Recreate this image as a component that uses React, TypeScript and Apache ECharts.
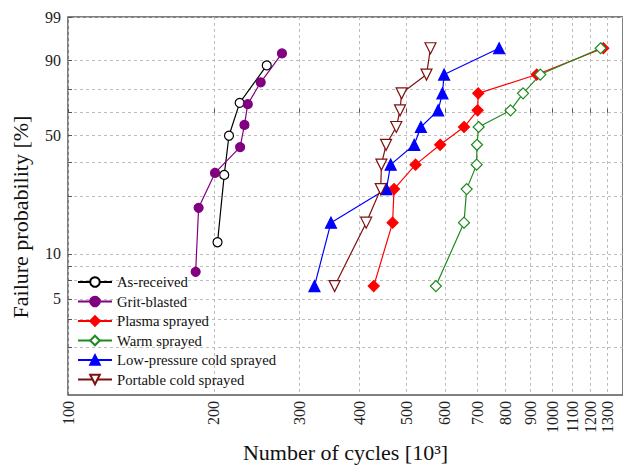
import React, { useEffect, useRef } from 'react';
import * as echarts from 'echarts';

// ---- data (cycles in 10^3, failure probability in %) ----
const seriesNames = [
  'As-received',
  'Grit-blasted',
  'Plasma sprayed',
  'Warm sprayed',
  'Low-pressure cold sprayed',
  'Portable cold sprayed',
];

const asReceivedCycles = [203.6, 210.2, 215.0, 226.2, 257.3];
const asReceivedProb = [11.9, 31.0, 50.0, 69.0, 88.1];

const gritBlastedCycles = [183.5, 186.1, 201.2, 226.7, 231.4, 235.1, 250.0, 276.6];
const gritBlastedProb = [7.6, 19.7, 31.8, 43.9, 56.1, 68.2, 80.3, 92.4];

const plasmaCycles = [427.9, 468.1, 471.3, 522.1, 586.8, 657.3, 701.3, 703.4, 929.1, 1274.7];
const plasmaProb = [6.1, 15.9, 25.6, 35.4, 45.1, 54.9, 64.6, 74.4, 84.1, 93.9];

const warmCycles = [575.0, 657.3, 665.7, 698.1, 699.1, 704.7, 819.9, 870.4, 944.8, 1258.6];
const warmProb = [6.1, 15.9, 25.6, 35.4, 45.1, 54.9, 64.6, 74.4, 84.1, 93.9];

const lowPressureCycles = [322.8, 349.2, 454.5, 463.8, 518.8, 535.5, 581.2, 593.2, 598.0, 776.9];
const lowPressureProb = [6.1, 15.9, 25.6, 35.4, 45.1, 54.9, 64.6, 74.4, 84.1, 93.9];

const portableCycles = [355.3, 412.9, 442.4, 443.8, 453.8, 476.4, 484.9, 488.6, 550.0, 560.5];
const portableProb = [6.1, 15.9, 25.6, 35.4, 45.1, 54.9, 64.6, 74.4, 84.1, 93.9];

const xTickValues = [100, 200, 300, 400, 500, 600, 700, 800, 900, 1000, 1100, 1200, 1300];
const yLabelValues = [5, 10, 50, 90, 99];
const yGridValues = [2.333, 3.667, 5, 6.667, 8.333, 10, 23.333, 36.667, 50, 63.333, 76.667, 90, 99];

const xMinCycles = 100;
const xMaxCycles = 1400;
const yMinPct = 1.1;
const yMaxPct = 99;

// ---- scale transforms (log x, Weibull y) ----
const lx = (c: number) => Math.log10(c);
const wb = (p: number) => Math.log(-Math.log(1 - p / 100));
const invWb = (w: number) => 100 * (1 - Math.exp(-Math.exp(w)));

const FONT = 'Liberation Serif';
const INV_TRIANGLE = 'path://M0,0L10,0L5,9Z';

function makeSeries(
  name: string,
  cycles: number[],
  probs: number[],
  color: string,
  symbol: string,
  filled: boolean,
  size: number
) {
  return {
    name,
    type: 'line',
    data: cycles.map((c, i) => [lx(c), wb(probs[i])]),
    symbol,
    symbolSize: size,
    showSymbol: true,
    lineStyle: { color, width: 1.2 },
    itemStyle: {
      color: filled ? color : '#ffffff',
      borderColor: color,
      borderWidth: 1.2,
    },
    emphasis: { disabled: true },
    silent: true,
  };
}

export default function App() {
  const ref = useRef<HTMLDivElement>(null);

  useEffect(() => {
    document.body.style.margin = '0';
    if (!ref.current) return;
    const chart = echarts.init(ref.current, undefined, { renderer: 'svg' });

    const option = {
      animation: false,
      backgroundColor: '#ffffff',
      textStyle: { fontFamily: FONT },
      grid: {
        left: 68,
        top: 17,
        width: 486.7 * (lx(xMaxCycles) - lx(xMinCycles)),
        height: 380,
        show: true,
        borderColor: '#555555',
        borderWidth: 1.5,
        backgroundColor: 'transparent',
      },
      legend: {
        orient: 'vertical',
        left: 77,
        top: 274,
        padding: 0,
        itemWidth: 34,
        itemHeight: 12,
        itemGap: 3.5,
        selectedMode: false,
        data: seriesNames,
        textStyle: { fontFamily: FONT, fontSize: 14.7, color: '#111', lineHeight: 16 },
      },
      xAxis: {
        type: 'value',
        min: lx(xMinCycles),
        max: lx(xMaxCycles),
        axisLine: { show: false },
        axisTick: {
          show: true,
          inside: true,
          length: 4,
          customValues: xTickValues.map(lx),
          lineStyle: { color: '#555555' },
        },
        axisLabel: {
          customValues: xTickValues.map(lx),
          formatter: (v: number) => String(Math.round(Math.pow(10, v))),
          rotate: 90,
          margin: 6,
          fontSize: 16,
          fontFamily: FONT,
          color: '#222',
        },
        splitLine: {
          show: true,
          lineStyle: { color: '#bdbdbd', width: 1, type: [3, 3] },
        },
        name: 'Number of cycles [10³]',
        nameLocation: 'middle',
        nameGap: 45,
        nameTextStyle: { fontFamily: FONT, fontSize: 22, color: '#111' },
      },
      yAxis: {
        type: 'value',
        min: wb(yMinPct),
        max: wb(yMaxPct),
        axisLine: { show: false },
        axisTick: {
          show: true,
          inside: true,
          length: 4,
          customValues: yGridValues.map(wb),
          lineStyle: { color: '#555555' },
        },
        axisLabel: {
          customValues: yLabelValues.map(wb),
          formatter: (v: number) => String(Math.round(invWb(v))),
          margin: 7,
          fontSize: 16,
          fontFamily: FONT,
          color: '#222',
        },
        splitLine: {
          show: true,
          lineStyle: { color: '#bdbdbd', width: 1, type: [3, 3] },
        },
        name: 'Failure probability [%]',
        nameLocation: 'middle',
        nameRotate: 90,
        nameGap: 37,
        nameTextStyle: { fontFamily: FONT, fontSize: 22, color: '#111', padding: [0, 22, 0, 0] },
      },
      series: [
        makeSeries(seriesNames[0], asReceivedCycles, asReceivedProb, '#000000', 'circle', false, 9),
        makeSeries(seriesNames[1], gritBlastedCycles, gritBlastedProb, '#800080', 'circle', true, 9),
        makeSeries(seriesNames[2], plasmaCycles, plasmaProb, '#ff0000', 'diamond', true, 11),
        makeSeries(seriesNames[3], warmCycles, warmProb, '#1e8a1e', 'diamond', false, 11),
        makeSeries(seriesNames[4], lowPressureCycles, lowPressureProb, '#0000ff', 'triangle', true, 11),
        makeSeries(seriesNames[5], portableCycles, portableProb, '#7f1010', INV_TRIANGLE, false, 11),
      ],
    };

    chart.setOption(option as any);
    return () => chart.dispose();
  }, []);

  return <div ref={ref} style={{ width: 623, height: 468 }} />;
}
